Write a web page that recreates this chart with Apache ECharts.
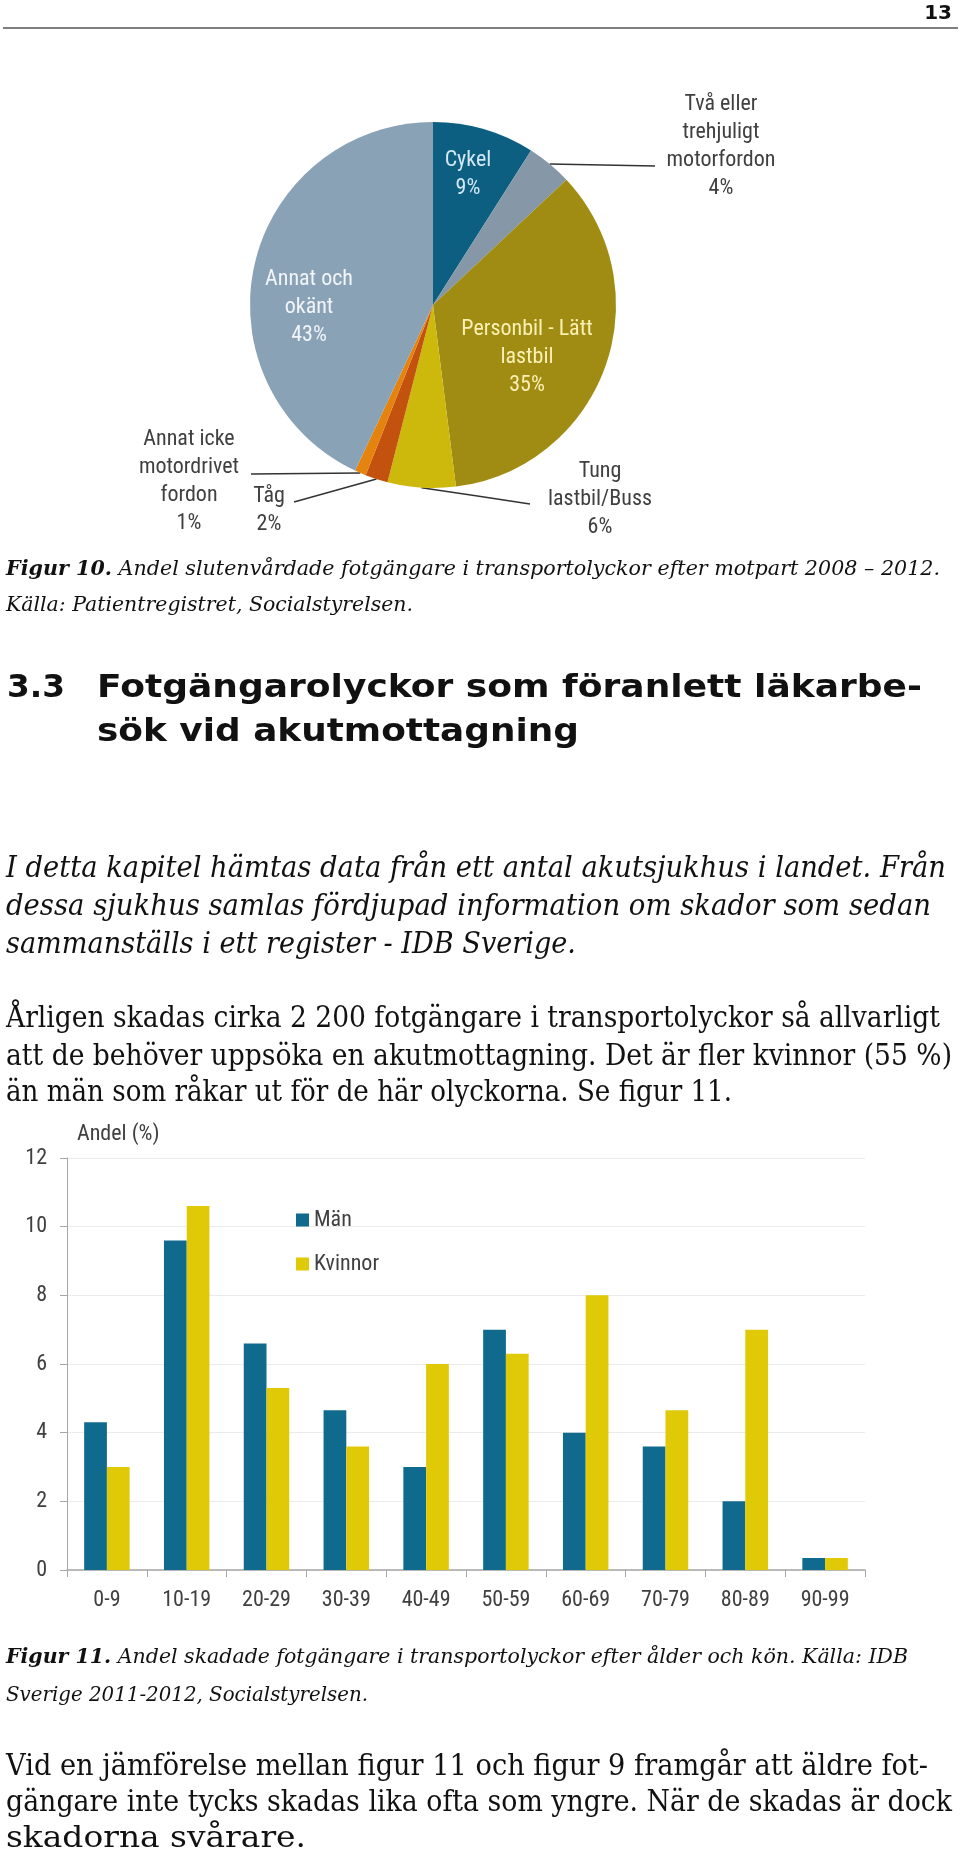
<!DOCTYPE html>
<html><head><meta charset="utf-8">
<script src="https://cdn.jsdelivr.net/npm/echarts@6/dist/echarts.min.js"></script>
<style>html,body{margin:0;padding:0;background:#fff}#c{width:960px;height:1851px}</style>
</head><body><div id="c"></div>
<script>
// ---------- DATA ----------
const pieNames = ['Cykel', 'Två eller\ntrehjuligt\nmotorfordon', 'Personbil - Lätt\nlastbil', 'Tung\nlastbil/Buss', 'Tåg', 'Annat icke\nmotordrivet\nfordon', 'Annat och\nokänt'];
const pieValues = [9, 4, 35, 6, 2, 1, 43];

const ageGroups = ['0-9', '10-19', '20-29', '30-39', '40-49', '50-59', '60-69', '70-79', '80-89', '90-99'];
const menValues = [4.3, 9.6, 6.6, 4.65, 3.0, 7.0, 4.0, 3.6, 2.0, 0.35];
const womenValues = [3.0, 10.6, 5.3, 3.6, 6.0, 6.3, 8.0, 4.65, 7.0, 0.35];
const seriesNames = ['Män', 'Kvinnor'];
const yAxisName = 'Andel (%)';

const pageNumber = '13';
const fig10Caption = ['Figur 10.', ' Andel slutenvårdade fotgängare i transportolyckor efter motpart 2008 – 2012.', 'Källa: Patientregistret, Socialstyrelsen.'];
const headingNumber = '3.3';
const headingLines = ['Fotgängarolyckor som föranlett läkarbe-', 'sök vid akutmottagning'];
const introLines = ['I detta kapitel hämtas data från ett antal akutsjukhus i landet. Från', 'dessa sjukhus samlas fördjupad information om skador som sedan', 'sammanställs i ett register - IDB Sverige.'];
const para1Lines = ['Årligen skadas cirka 2 200 fotgängare i transportolyckor så allvarligt', 'att de behöver uppsöka en akutmottagning. Det är fler kvinnor (55 %)', 'än män som råkar ut för de här olyckorna. Se figur 11.'];
const fig11Caption = ['Figur 11.', ' Andel skadade fotgängare i transportolyckor efter ålder och kön. Källa: IDB', 'Sverige 2011-2012, Socialstyrelsen.'];
const para2Lines = ['Vid en jämförelse mellan figur 11 och figur 9 framgår att äldre fot-', 'gängare inte tycks skadas lika ofta som yngre. När de skadas är dock', 'skadorna svårare.'];

// ---------- STYLE / LAYOUT ----------
const pieColors = ['#0c5f81', '#8697a8', '#a08c12', '#cdb90c', '#c4520f', '#e5830f', '#8aa2b6'];
const pieLabelColors = ['#d3e8f6', '#404040', '#fbf1b4', '#404040', '#404040', '#404040', '#f2f5f8'];
const PIE = { cx: 433, cy: 305, r: 183 };
const pieLabelPos = [[468, 174], [721, 146], [527, 357], [600, 499], [269, 510], [189, 481], [309, 307]];
const pieLeaderEnd = [null, [655, 166], null, [530, 504], [294, 502], [251, 474], null];
const chartFont = "'Liberation Sans Narrow', 'Roboto Condensed', 'Open Sans', sans-serif";
const menColor = '#0f6a8e', womenColor = '#e0ca07';

const serif = '"DejaVu Serif"';
const sans = '"DejaVu Sans"';

const mctx = document.createElement('canvas').getContext('2d');
function measure(t, font) { mctx.font = font; return mctx.measureText(t).width; }
function textLine(segs, x, y, w, fill) {
  const total = segs.reduce((a, s) => a + measure(s.t, s.f), 0);
  const k = w / total;
  let cx = x; const out = [];
  segs.forEach(s => {
    out.push({ type: 'text', x: cx, y: y, scaleX: k, silent: true, z: 10,
      style: { text: s.t, font: s.f, fill: fill || '#111', textAlign: 'left', textVerticalAlign: 'middle', align: 'left', verticalAlign: 'middle' } });
    cx += measure(s.t, s.f) * k;
  });
  return out;
}

const fCapB = 'italic bold 20px ' + serif, fCap = 'italic 20px ' + serif;
const fHead = 'bold 32px ' + sans;
const fBodyI = 'italic 29px ' + serif, fBody = '29px ' + serif;

let graphics = [];
graphics.push({ type: 'text', x: 952, y: 14, silent: true, style: { text: pageNumber, font: 'bold 20px ' + sans, fill: '#111', textAlign: 'right', textVerticalAlign: 'middle', align: 'right', verticalAlign: 'middle' } });
graphics.push({ type: 'line', silent: true, shape: { x1: 3, y1: 28, x2: 958, y2: 28 }, style: { stroke: '#555', lineWidth: 1.5 } });

graphics = graphics.concat(
  textLine([{ t: fig10Caption[0], f: fCapB }, { t: fig10Caption[1], f: fCap }], 6, 570, 934),
  textLine([{ t: fig10Caption[2], f: fCap }], 6, 606, 407),
  textLine([{ t: headingNumber, f: fHead }], 7, 689, 58),
  textLine([{ t: headingLines[0], f: fHead }], 97, 689, 825),
  textLine([{ t: headingLines[1], f: fHead }], 97, 733, 482),
  textLine([{ t: introLines[0], f: fBodyI }], 6, 869, 940),
  textLine([{ t: introLines[1], f: fBodyI }], 6, 907, 925),
  textLine([{ t: introLines[2], f: fBodyI }], 6, 945, 570),
  textLine([{ t: para1Lines[0], f: fBody }], 6, 1019, 934),
  textLine([{ t: para1Lines[1], f: fBody }], 6, 1057, 946),
  textLine([{ t: para1Lines[2], f: fBody }], 6, 1093, 726),
  textLine([{ t: fig11Caption[0], f: fCapB }, { t: fig11Caption[1], f: fCap }], 6, 1658, 902),
  textLine([{ t: fig11Caption[2], f: fCap }], 6, 1696, 362),
  textLine([{ t: para2Lines[0], f: fBody }], 6, 1767, 922),
  textLine([{ t: para2Lines[1], f: fBody }], 6, 1803, 946),
  textLine([{ t: para2Lines[2], f: fBody }], 6, 1839, 300)
);

// pie anchors computed from data
const pieTotal = pieValues.reduce((a, b) => a + b, 0);
function pieAnchor(i) {
  let cum = 0; for (let j = 0; j < i; j++) cum += pieValues[j];
  const th = 2 * Math.PI * (cum + pieValues[i] / 2) / pieTotal;
  return [PIE.cx + PIE.r * Math.sin(th), PIE.cy - PIE.r * Math.cos(th)];
}

const chart = echarts.init(document.getElementById('c'), null, { renderer: 'canvas' });
chart.setOption({
  animation: false,
  backgroundColor: '#fff',
  graphic: graphics,
  legend: {
    data: seriesNames, orient: 'vertical', left: 291, top: 1204,
    itemWidth: 13, itemHeight: 13, itemGap: 22, icon: 'rect', selectedMode: false,
    textStyle: { fontSize: 22, color: '#404040', fontFamily: chartFont }
  },
  grid: { left: 67, top: 1158, width: 798, height: 412, containLabel: false },
  xAxis: {
    type: 'category', data: ageGroups,
    axisLine: { lineStyle: { color: '#a6a6a6', width: 1.5 } },
    axisTick: { show: true, length: 7, lineStyle: { color: '#a6a6a6' } },
    axisLabel: { fontSize: 22, color: '#404040', margin: 19, fontFamily: chartFont }
  },
  yAxis: {
    type: 'value', min: 0, max: 12, interval: 2,
    name: yAxisName, nameLocation: 'end', nameGap: 24,
    nameTextStyle: { align: 'left', verticalAlign: 'middle', fontSize: 22, color: '#404040', padding: [0, 0, 0, 10], fontFamily: chartFont },
    axisLine: { show: true, lineStyle: { color: '#a6a6a6', width: 1 } },
    axisTick: { show: true, length: 7, lineStyle: { color: '#a6a6a6' } },
    splitLine: { lineStyle: { color: '#ebebeb' } },
    axisLabel: { fontSize: 22, color: '#404040', margin: 20, fontFamily: chartFont }
  },
  series: [
    { name: seriesNames[0], type: 'bar', data: menValues, barGap: '0%', barCategoryGap: '43%', itemStyle: { color: menColor }, emphasis: { disabled: true } },
    { name: seriesNames[1], type: 'bar', data: womenValues, barGap: '0%', barCategoryGap: '43%', itemStyle: { color: womenColor }, emphasis: { disabled: true } },
    {
      type: 'pie', center: [PIE.cx, PIE.cy], radius: PIE.r, startAngle: 90, clockwise: true,
      emphasis: { disabled: true }, silent: true,
      data: pieNames.map((n, i) => ({
        name: n, value: pieValues[i],
        itemStyle: { color: pieColors[i] },
        label: { color: pieLabelColors[i] },
        labelLine: { show: pieLeaderEnd[i] != null }
      })),
      label: {
        show: true, position: 'outside', fontSize: 22, lineHeight: 28, fontFamily: chartFont,
        formatter: p => p.name + '\n' + p.value + '%'
      },
      labelLine: { show: true, lineStyle: { color: '#333', width: 1.5 } },
      labelLayout: function (params) {
        const i = params.dataIndex;
        const o = { x: pieLabelPos[i][0], y: pieLabelPos[i][1], align: 'center', verticalAlign: 'middle' };
        if (pieLeaderEnd[i]) {
          const a = pieAnchor(i), e = pieLeaderEnd[i];
          o.labelLinePoints = [a, [(a[0] + e[0]) / 2, (a[1] + e[1]) / 2], e];
        }
        return o;
      }
    }
  ]
});
</script>
</body></html>
